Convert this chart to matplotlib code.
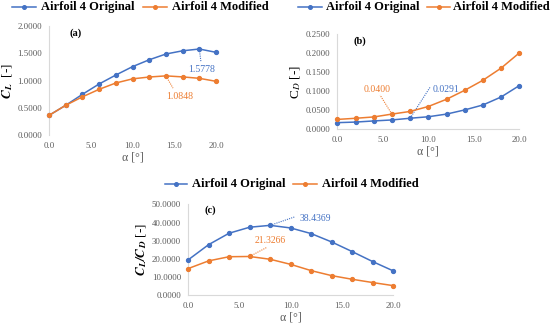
import matplotlib
matplotlib.use("Agg")
import matplotlib.pyplot as plt
from matplotlib.lines import Line2D

plt.rcParams['font.family'] = ['Liberation Serif', 'DejaVu Serif']
plt.rcParams['mathtext.fontset'] = 'stix'

alpha = [0, 2, 4, 6, 8, 10, 12, 14, 16, 18, 20]
cl_orig = [0.36, 0.545, 0.746, 0.936, 1.10, 1.254, 1.38, 1.486, 1.545, 1.5778, 1.517]
cl_mod = [0.36, 0.545, 0.70, 0.838, 0.954, 1.03, 1.064, 1.0848, 1.066, 1.04, 0.985]
cd_orig = [0.0175, 0.019, 0.022, 0.0246, 0.0291, 0.033, 0.040, 0.051, 0.064, 0.085, 0.115]
cd_mod = [0.026, 0.029, 0.0325, 0.0400, 0.047, 0.060, 0.079, 0.1026, 0.129, 0.161, 0.201]
ld_orig = [19.4, 27.8, 34.1, 37.4, 38.4369, 37.0, 33.9, 29.3, 24.0, 18.5, 13.4]
ld_mod = [14.65, 18.9, 21.2, 21.3266, 19.8, 17.0, 13.55, 10.8, 8.8, 7.0, 5.3]
series_names = ["Airfoil 4 Original", "Airfoil 4 Modified"]
xticks = [0, 5, 10, 15, 20]

BLUE = '#4472C4'
ORANGE = '#ED7D31'
GRAY = '#595959'
AXC = '#D9D9D9'
W, H = 550, 328

fig = plt.figure(figsize=(5.5, 3.28), dpi=100)

def setup(ax, ymax, ystep, fmt, bottom_line=True):
    ax.set_xlim(0, 20)
    ax.set_ylim(0, ymax)
    ax.set_xticks(xticks)
    ax.set_xticklabels([f"{t:.1f}" for t in xticks])
    n = int(round(ymax / ystep))
    yt = [i * ystep for i in range(n + 1)]
    ax.set_yticks(yt)
    ax.set_yticklabels([fmt.format(v) for v in yt])
    for s in ['top', 'right']:
        ax.spines[s].set_visible(False)
    ax.spines['left'].set_color(AXC)
    ax.spines['left'].set_linewidth(0.8)
    ax.spines['bottom'].set_color(AXC)
    ax.spines['bottom'].set_linewidth(0.8)
    ax.spines['bottom'].set_visible(bottom_line)
    ax.tick_params(length=0, labelsize=6.3, colors=GRAY, pad=5)
    ax.set_xlabel(r'α [°]', fontsize=8.5, color=GRAY, labelpad=1)
    ax.patch.set_alpha(0)

def plot_series(ax, y1, y2):
    ax.plot(alpha, y1, color=BLUE, lw=1.1, marker='o', ms=2.8, clip_on=False, zorder=3)
    ax.plot(alpha, y2, color=ORANGE, lw=1.1, marker='o', ms=2.8, clip_on=False, zorder=3)

def legend_entry(x0, x1, xt, y, color, label):
    fy = 1 - y / H
    fig.add_artist(Line2D([x0 / W, x1 / W], [fy, fy], color=color, lw=1.1,
                          transform=fig.transFigure))
    fig.add_artist(Line2D([(x0 + x1) / 2 / W], [fy], color=color, marker='o', ms=2.6,
                          transform=fig.transFigure))
    fig.text(xt / W, 1 - (y + 2.8) / H, label, fontsize=9, fontweight='bold',
             ha='left', va='baseline')

def legend(pos, y):
    (a0, a1, at), (b0, b1, bt) = pos
    legend_entry(a0, a1, at, y, BLUE, series_names[0])
    legend_entry(b0, b1, bt, y, ORANGE, series_names[1])

LEAD = dict(lw=0.8, ls=(0, (1, 1)))

# (a)
axa = fig.add_axes([49 / W, 1 - 135 / H, 167 / W, 109 / H])
setup(axa, 2.0, 0.5, "{:.4f}", bottom_line=False)
plot_series(axa, cl_orig, cl_mod)
axa.set_ylabel(r'$\mathbfit{C_L}$  [-]', fontsize=9.5, labelpad=2)
axa.text(0.12, 0.93, '(a)', transform=axa.transAxes, fontsize=7.5, fontweight='bold', va='center')
axa.text(18.25, 1.21, '1.5778', color=BLUE, fontsize=7, ha='center', va='center')
axa.plot([18, 18.2], [1.5778, 1.34], color=BLUE, **LEAD)
axa.text(15.7, 0.70, '1.0848', color=ORANGE, fontsize=7, ha='center', va='center')
axa.plot([14, 14.85], [1.0848, 0.86], color=ORANGE, **LEAD)
legend([(12, 36, 41), (143, 167, 172)], 7.3)

# (b)
axb = fig.add_axes([337.3 / W, 1 - 129.3 / H, 182 / W, 95 / H])
setup(axb, 0.25, 0.05, "{:.4f}")
plot_series(axb, cd_orig, cd_mod)
axb.set_ylabel(r'C$_{\mathit{D}}$ [-]', fontsize=9.5, labelpad=2)
axb.text(0.09, 0.93, '(b)', transform=axb.transAxes, fontsize=7.5, fontweight='bold', va='center')
axb.text(4.4, 0.106, '0.0400', color=ORANGE, fontsize=7, ha='center', va='center')
axb.plot([6, 4.7], [0.0400, 0.090], color=ORANGE, **LEAD)
axb.text(10.5, 0.106, '0.0291', color=BLUE, fontsize=7, ha='left', va='center')
axb.plot([8, 10.2], [0.0291, 0.111], color=BLUE, **LEAD)
legend([(298, 322, 326), (427, 450, 453)], 7.3)

# (c)
axc = fig.add_axes([188 / W, 1 - 295.3 / H, 205.3 / W, 91 / H])
setup(axc, 50, 10, "{:.4f}")
plot_series(axc, ld_orig, ld_mod)
axc.set_ylabel(r'$\mathbfit{C_L/C_D}$ [-]', fontsize=9.5, labelpad=2)
axc.text(0.08, 0.93, '(c)', transform=axc.transAxes, fontsize=7.5, fontweight='bold', va='center')
axc.text(10.9, 42.3, '38.4369', color=BLUE, fontsize=7, ha='left', va='center')
axc.plot([8, 10.4], [38.4369, 43.1], color=BLUE, **LEAD)
axc.text(8.0, 30.0, '21.3266', color=ORANGE, fontsize=7, ha='center', va='center')
axc.plot([6, 7.7], [21.3266, 26.4], color=ORANGE, **LEAD)
legend([(165, 187, 192), (293, 317, 322)], 184.3)

fig.savefig('out.png', dpi=100)
